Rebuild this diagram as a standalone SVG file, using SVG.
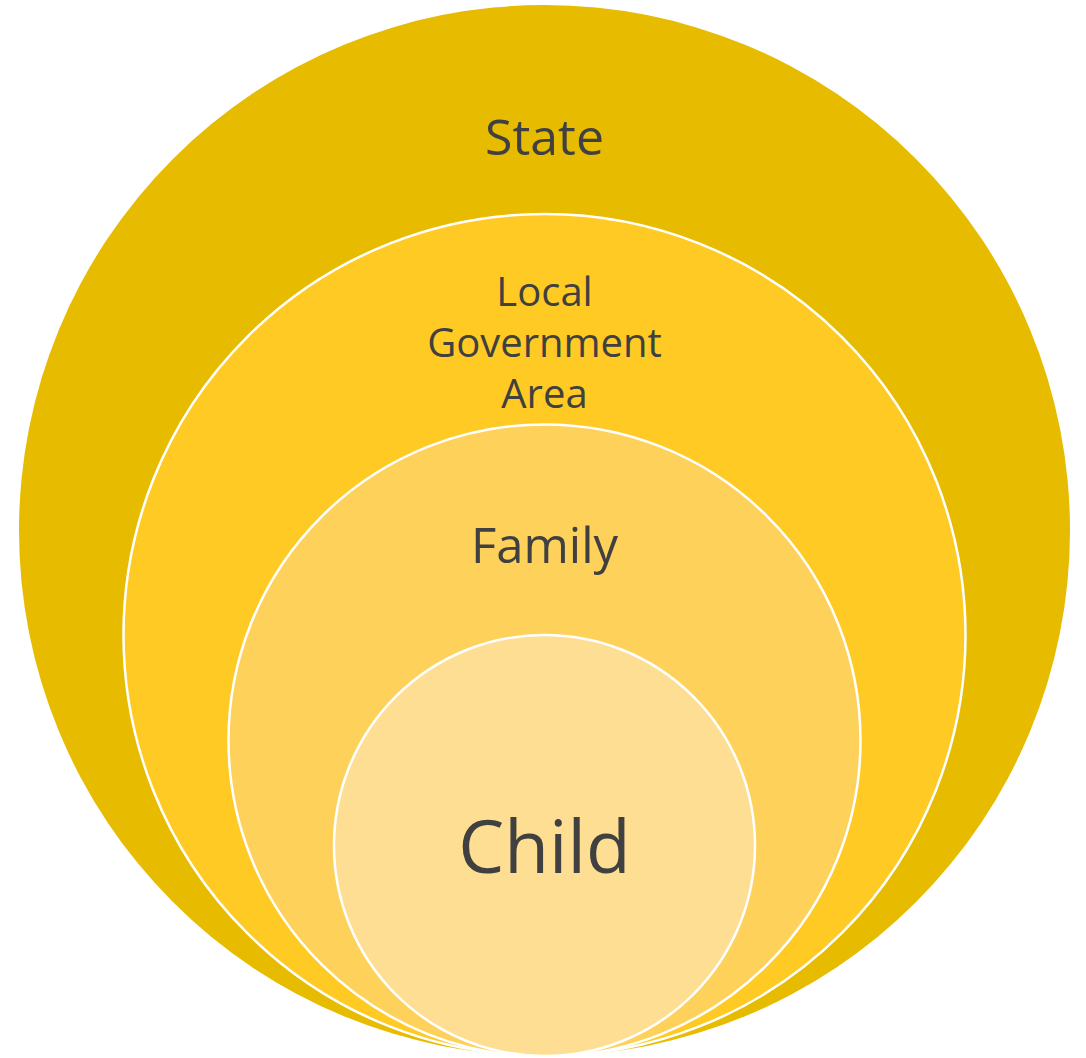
<svg xmlns="http://www.w3.org/2000/svg" width="1086" height="1058" viewBox="0 0 1086 1058">
<style>
.ring{stroke:#FFFFFF;stroke-width:2.5}
.lbl{font-family:"Open Sans","Noto Sans","Liberation Sans",sans-serif;fill:#404040;text-anchor:middle}
</style>
<rect width="1086" height="1058" fill="#FFFFFF"/>
<g id="state">
<circle cx="544.5" cy="530.5" r="525.5" fill="#E6BB00"/>
<text class="lbl" x="544.5" y="155" font-size="50">State</text>
</g>
<g id="lga">
<circle class="ring" cx="544.5" cy="635" r="421" fill="#FFCA23"/>
<text class="lbl" x="544.5" y="306" font-size="40">Local</text>
<text class="lbl" x="544.5" y="357" font-size="40">Government</text>
<text class="lbl" x="544.5" y="408" font-size="40">Area</text>
</g>
<g id="family">
<circle class="ring" cx="544.5" cy="740.5" r="316" fill="#FED15B"/>
<text class="lbl" x="544.5" y="563" font-size="49">Family</text>
</g>
<g id="child">
<circle class="ring" cx="544.5" cy="845.5" r="210.5" fill="#FEDE93"/>
<text class="lbl" x="544.5" y="873" font-size="73">Child</text>
</g>
<g id="connectors"/>
</svg>
